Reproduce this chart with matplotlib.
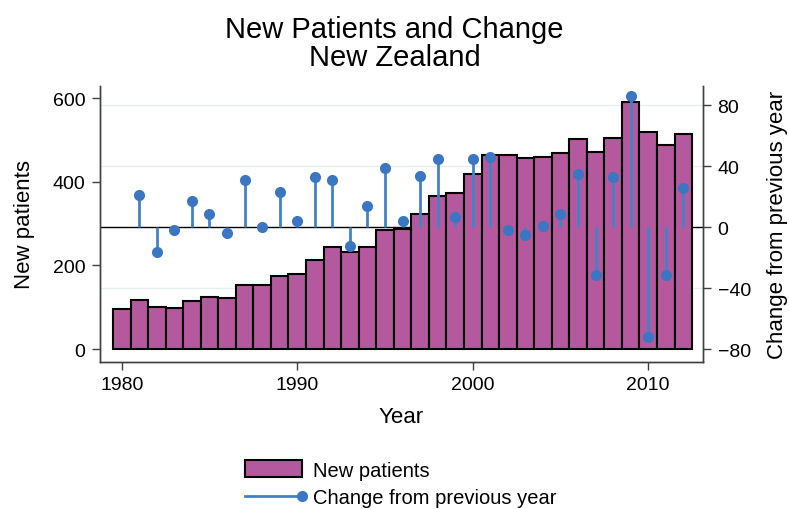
import matplotlib
matplotlib.use("Agg")
import matplotlib.pyplot as plt
from matplotlib.patches import Patch
from matplotlib.lines import Line2D
from matplotlib.legend_handler import HandlerBase

plt.rcParams['font.family'] = ['Liberation Sans', 'DejaVu Sans']

# data
years = list(range(1980, 2013))
new_patients = [96, 117, 101, 99, 116, 125, 121, 152, 152, 175, 179, 212, 243,
                231, 245, 284, 288, 322, 367, 374, 419, 465, 463, 458, 459, 468,
                503, 472, 505, 591, 519, 488, 514]
change_years = list(range(1981, 2013))
change = [21, -16, -2, 17, 9, -4, 31, 0, 23, 4, 33, 31, -12, 14, 39, 4, 34, 45,
          7, 45, 46, -2, -5, 1, 9, 35, -31, 33, 86, -72, -31, 26]
left_ticks = [0, 200, 400, 600]
right_ticks = [-80, -40, 0, 40, 80]
x_ticks = [1980, 1990, 2000, 2010]

bar_color = '#B5599F'
dot_color = '#3A76C1'
stem_color = '#4382C6'
spine_color = '#404040'

fig = plt.figure(figsize=(7.89, 5.10), dpi=100)
pos = [0.1267, 0.2888, 0.891 - 0.1267, 0.83 - 0.2888]
xlim = (1978.76, 2013.12)
ylim_left = (-30.4, 630)
ylim_right = (-88.1, 92.9)

# background axes: grid + zero line (behind bars)
ax_bg = fig.add_axes(pos, zorder=0)
ax_bg.set_xlim(*xlim)
ax_bg.set_ylim(*ylim_right)
for t in right_ticks:
    if t == 0:
        ax_bg.axhline(t, color='black', lw=1.0)
    elif t != -80:
        ax_bg.axhline(t, color='#E6EEEE', lw=1.0)
ax_bg.axis('off')

# bars on left axis
ax = fig.add_axes(pos, zorder=1)
ax.patch.set_visible(False)
ax.bar(years, new_patients, width=1.0, color=bar_color, edgecolor='black', linewidth=1.5)
ax.set_xlim(*xlim)
ax.set_ylim(*ylim_left)
ax.set_yticks(left_ticks)
ax.set_xticks(x_ticks)
ax.set_ylabel('New patients', fontsize=16, labelpad=13)
ax.set_xlabel('Year', fontsize=16, labelpad=9)

# stems on right axis
ax2 = ax.twinx()
ax2.set_zorder(2)
ax2.patch.set_visible(False)
ax2.vlines(change_years, 0, change, color=stem_color, lw=2)
ax2.plot(change_years, change, 'o', color=dot_color, markersize=8, markeredgewidth=0)
ax2.set_ylim(*ylim_right)
ax2.set_yticks(right_ticks)
ax2.set_ylabel('Change from previous year', fontsize=16, labelpad=12)

for a in (ax, ax2):
    a.spines['top'].set_visible(False)
    for s in ('left', 'right', 'bottom'):
        a.spines[s].set_color(spine_color)
        a.spines[s].set_linewidth(1.0)
    a.tick_params(axis='both', labelsize=14, length=6, width=1, color=spine_color, pad=4.5)

fig.text(0.5, 0.942, 'New Patients and Change', ha='center', va='center', fontsize=21)
fig.text(0.5, 0.887, 'New Zealand', ha='center', va='center', fontsize=21)


class StemHandler(HandlerBase):
    def create_artists(self, legend, orig_handle, xdescent, ydescent,
                       width, height, fontsize, trans):
        y = height / 2 - ydescent
        line = Line2D([-xdescent, width - xdescent], [y, y], color=stem_color, lw=2)
        dot = Line2D([width - xdescent], [y], marker='o', color=dot_color,
                     markersize=8, markeredgewidth=0, linestyle='none')
        line.set_transform(trans)
        dot.set_transform(trans)
        return [line, dot]


bar_handle = Patch(facecolor=bar_color, edgecolor='black', linewidth=1.5)
stem_handle = Line2D([], [])
fig.legend([bar_handle, stem_handle], ['New patients', 'Change from previous year'],
           handler_map={Line2D: StemHandler()},
           loc='upper left', bbox_to_anchor=(245 / 789, 1 - 461 / 510),
           bbox_transform=fig.transFigure, frameon=False, fontsize=14.5,
           handlelength=2.83, handleheight=0.95, handletextpad=0.55,
           labelspacing=0.38, borderpad=0, borderaxespad=0)

fig.savefig('out.png', dpi=100)
